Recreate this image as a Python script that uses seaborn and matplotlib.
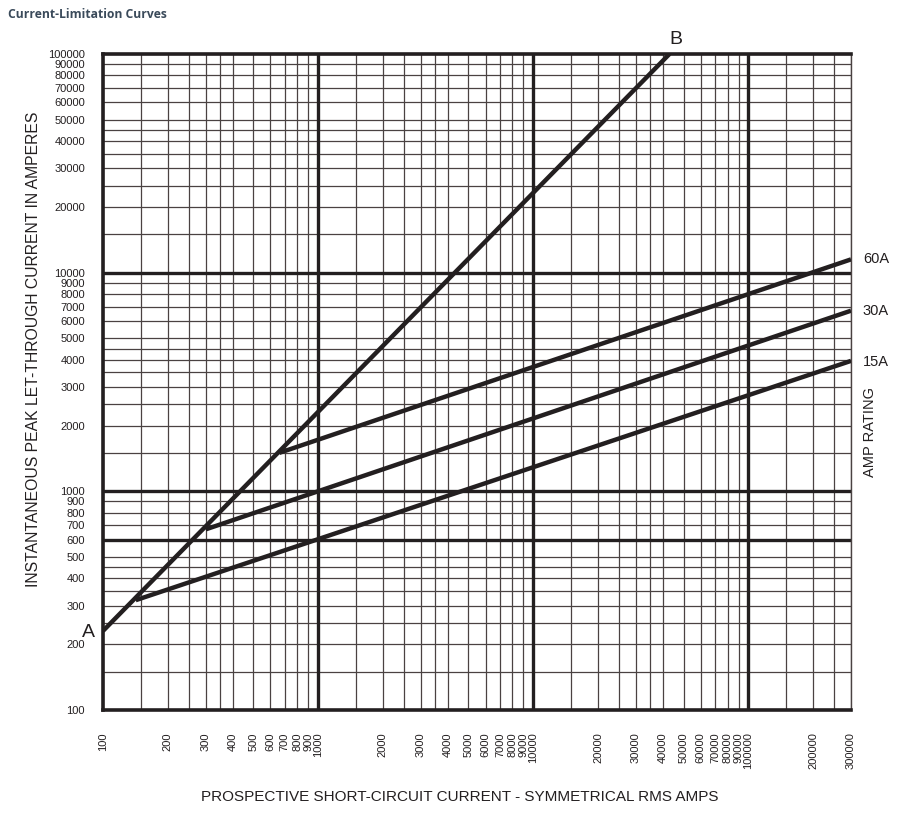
import numpy as np
import pandas as pd
import seaborn as sns
import matplotlib.pyplot as plt
from matplotlib.ticker import NullFormatter

# Curve end points (prospective current, peak let-through)
ab_x = [100, 43000]
ab_y = [230, 100000]
amp60_x = [660, 300000]
amp60_y = [1500, 11500]
amp30_x = [300, 300000]
amp30_y = [670, 6700]
amp15_x = [142, 300000]
amp15_y = [318, 3950]

# Grid / tick values
x_labels = [100, 200, 300, 400, 500, 600, 700, 800, 900, 1000,
            2000, 3000, 4000, 5000, 6000, 7000, 8000, 9000, 10000,
            20000, 30000, 40000, 50000, 60000, 70000, 80000, 90000, 100000,
            200000, 300000]
x_minor = [150, 250, 350, 1500, 2500, 3500, 15000, 25000, 35000, 150000, 250000]
y_labels = [100, 200, 300, 400, 500, 600, 700, 800, 900, 1000,
            2000, 3000, 4000, 5000, 6000, 7000, 8000, 9000, 10000,
            20000, 30000, 40000, 50000, 60000, 70000, 80000, 90000, 100000]
y_minor = [150, 250, 350, 450, 1500, 2500, 3500, 4500, 15000, 25000, 35000, 45000]
x_heavy = [1000, 10000, 100000]
y_heavy = [600, 1000, 10000]

curves = pd.concat([
    pd.DataFrame({'x': ab_x, 'y': ab_y, 'curve': 'AB'}),
    pd.DataFrame({'x': amp60_x, 'y': amp60_y, 'curve': '60A'}),
    pd.DataFrame({'x': amp30_x, 'y': amp30_y, 'curve': '30A'}),
    pd.DataFrame({'x': amp15_x, 'y': amp15_y, 'curve': '15A'}),
], ignore_index=True)

sns.set_style('white')
plt.rcParams['font.family'] = ['Liberation Sans', 'DejaVu Sans']

ink = '#231f20'
fig = plt.figure(figsize=(9.18, 8.24), dpi=100)
ax = fig.add_axes([0.1122, 0.1383, 0.8148, 0.7962])
ax.set_xscale('log')
ax.set_yscale('log')
ax.set_xlim(100, 300000)
ax.set_ylim(100, 100000)

# grid
ax.set_xticks(x_labels)
ax.set_xticklabels([str(v) for v in x_labels], rotation=90, fontsize=8)
ax.set_xticks(x_minor, minor=True)
ax.set_yticks(y_labels)
ax.set_yticklabels([str(v) for v in y_labels], fontsize=8)
ax.set_yticks(y_minor, minor=True)
ax.xaxis.set_minor_formatter(NullFormatter())
ax.yaxis.set_minor_formatter(NullFormatter())
ax.tick_params(which='both', length=0, colors='#231f20')
ax.tick_params(axis='x', pad=16)
ax.tick_params(axis='y', pad=13)
ax.grid(which='both', color='#4a4242', lw=0.9)
for v in x_heavy:
    ax.axvline(v, color=ink, lw=2.4, zorder=2)
for v in y_heavy:
    ax.axhline(v, color=ink, lw=2.4, zorder=2)

for side in ['left', 'bottom', 'top']:
    ax.spines[side].set_linewidth(2.6)
    ax.spines[side].set_color(ink)
ax.spines['right'].set_linewidth(1.0)
ax.spines['right'].set_color('#4a4242')

for name in ['AB', '60A', '30A', '15A']:
    sns.lineplot(data=curves[curves['curve'] == name], x='x', y='y', ax=ax,
                 color=ink, lw=3.2, estimator=None, sort=False, zorder=5,
                 solid_capstyle='butt')
ax.set_xlabel('')
ax.set_ylabel('')

# annotations
fig.text(0.096, 0.233, 'A', fontsize=14, color=ink, ha='center', va='center')
fig.text(0.736, 0.952, 'B', fontsize=14, color=ink, ha='center', va='center')
fig.text(0.940, 0.686, '60A', fontsize=10.5, color=ink, ha='left', va='center')
fig.text(0.940, 0.623, '30A', fontsize=10.5, color=ink, ha='left', va='center')
fig.text(0.940, 0.561, '15A', fontsize=10.5, color=ink, ha='left', va='center')
fig.text(0.948, 0.476, 'AMP RATING', fontsize=10.5, color=ink, rotation=90,
         ha='center', va='center')

fig.text(0.036, 0.576, 'INSTANTANEOUS PEAK LET-THROUGH CURRENT IN AMPERES',
         fontsize=11.3, color=ink, rotation=90, ha='center', va='center')
fig.text(0.501, 0.033, 'PROSPECTIVE SHORT-CIRCUIT CURRENT - SYMMETRICAL RMS AMPS',
         fontsize=11, color=ink, ha='center', va='center')

fig.text(0.009, 0.99, 'Current-Limitation Curves', fontsize=8.7, fontweight='bold',
         color='#3a4a5a', family=['Open Sans', 'DejaVu Sans'], ha='left', va='top')

fig.savefig('out.png', dpi=100, facecolor='white')
